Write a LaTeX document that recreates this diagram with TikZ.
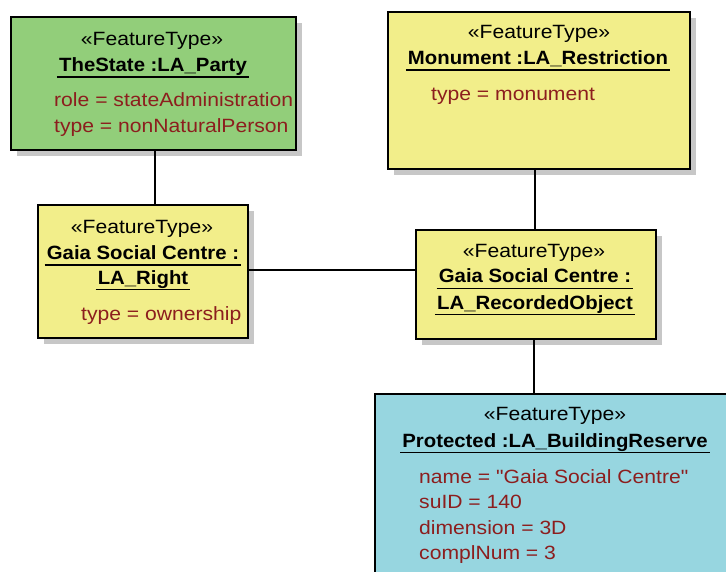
\documentclass[tikz,border=0pt]{standalone}
\usepackage{fontspec}
\setmainfont{Liberation Sans}[FakeStretch=1.10, Ligatures=TeXOff, BoldFeatures={FakeStretch=1.06}]
\usetikzlibrary{shadows}
\definecolor{greenbox}{RGB}{146,206,122}
\definecolor{yellowbox}{RGB}{242,238,138}
\definecolor{bluebox}{RGB}{151,214,224}
\definecolor{attrred}{RGB}{140,30,30}
\tikzset{
  box/.style={draw=black, line width=1.6pt, rectangle, anchor=north west, inner sep=0pt,
    drop shadow={shadow xshift=6pt, shadow yshift=-6pt, fill=black!22, opacity=1}},
  conn/.style={draw=black, line width=1.3pt},
  ft/.style={anchor=base, inner sep=0pt, font=\fontsize{19.2}{23}\selectfont},
  nm/.style={anchor=base, inner sep=0pt, font=\fontsize{19.2}{23}\selectfont\bfseries},
  attr/.style={anchor=base west, inner sep=0pt, text=attrred, font=\fontsize{19.2}{23}\selectfont},
  uline/.style={draw=black, line width=1.3pt},
}
\newcommand{\uln}[1]{\draw[uline] ([shift={(-2pt,-5.5pt)}]#1.base west) -- ([shift={(2pt,-5.5pt)}]#1.base east);}
\begin{document}
\begin{tikzpicture}[x=1pt,y=-1pt]
\clip (0,0) rectangle (726,572);
\useasboundingbox (0,0) rectangle (726,572);
\fill[white] (0,0) rectangle (726,572);

% boxes
\node[box, fill=greenbox, minimum width=285pt, minimum height=133pt] (party) at (10,16) {};
\node[box, fill=yellowbox, minimum width=302pt, minimum height=157pt] (mon) at (387,11) {};
\node[box, fill=yellowbox, minimum width=210pt, minimum height=133pt] (right) at (37,204) {};
\node[box, fill=yellowbox, minimum width=240pt, minimum height=109pt] (rec) at (415,229) {};
\node[box, fill=bluebox, minimum width=380pt, minimum height=200pt] (bld) at (374,393) {};

% connectors
\coordinate (c1) at (155,0);
\coordinate (c2) at (0,270);
\coordinate (c3) at (535,0);
\coordinate (c4) at (534,0);
\draw[conn] (party.south -| c1) -- (right.north -| c1);
\draw[conn] (right.east |- c2) -- (rec.west |- c2);
\draw[conn] (mon.south -| c3) -- (rec.north -| c3);
\draw[conn] (rec.south -| c4) -- (bld.north -| c4);

% TheState
\node[ft] (t1) at (152,45.5) {«FeatureType»};
\node[nm] (n1) at (153,71.5) {TheState :LA\_Party};
\uln{n1}
\node[attr] (a1a) at (54,106.5) {role = stateAdministration};
\node[attr] (a1b) at (54,133) {type = nonNaturalPerson};

% Monument
\node[ft] (t2) at (539,38.5) {«FeatureType»};
\node[nm] (n2) at (538,64.5) {Monument :LA\_Restriction};
\uln{n2}
\node[attr] (a2a) at (431,100.5) {type = monument};

% LA_Right
\node[ft] (t3) at (142,233.5) {«FeatureType»};
\node[nm] (n3a) at (143,259.5) {Gaia Social Centre :};
\uln{n3a}
\node[nm] (n3b) at (143,284) {LA\_Right};
\uln{n3b}
\node[attr] (a3a) at (81,320.5) {type = ownership};

% RecordedObject
\node[ft] (t4) at (534,257.5) {«FeatureType»};
\node[nm] (n4a) at (535,283) {Gaia Social Centre :};
\uln{n4a}
\node[nm] (n4b) at (535,309) {LA\_RecordedObject};
\uln{n4b}

% BuildingReserve
\node[ft] (t5) at (555,420.5) {«FeatureType»};
\node[nm] (n5) at (555,447) {Protected :LA\_BuildingReserve};
\uln{n5}
\node[attr] (a5a) at (419,483.5) {name = "Gaia Social Centre"};
\node[attr] (a5b) at (419,508.5) {suID = 140};
\node[attr] (a5c) at (419,534.5) {dimension = 3D};
\node[attr] (a5d) at (419,559.5) {complNum = 3};
\end{tikzpicture}
\end{document}
